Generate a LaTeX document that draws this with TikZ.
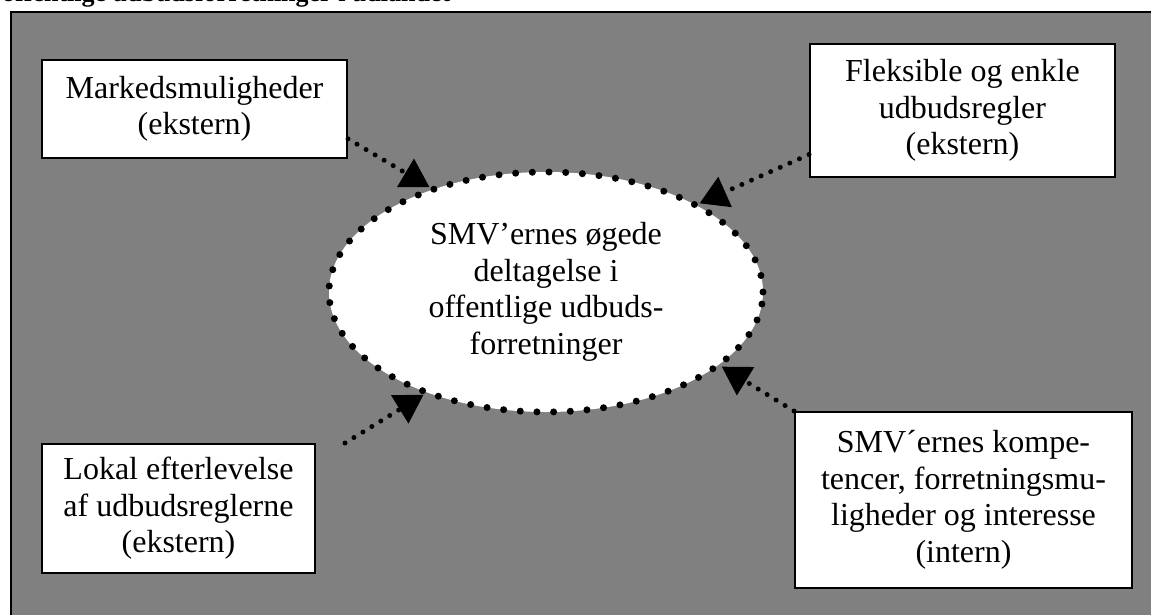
\documentclass[tikz,border=0pt]{standalone}
\usepackage{fontspec}
\setmainfont{Liberation Serif}
\usetikzlibrary{shapes.geometric,arrows.meta}
\tikzset{
  factor/.style={draw,fill=white,line width=2pt,align=center,inner sep=0pt,
    font=\fontsize{32}{36.5}\selectfont},
  goal/.style={ellipse,draw,fill=white,line width=7pt,line cap=round,
    dash pattern=on 0pt off 16.7pt,align=center,inner sep=0pt,
    font=\fontsize{32}{36.5}\selectfont},
  dotline/.style={line width=5pt,line cap=round,dash pattern=on 0pt off 10.5pt,
    -{Triangle[length=28pt,width=32pt]}},
}

\begin{document}
\begin{tikzpicture}[x=1pt,y=-1pt]
  \useasboundingbox (0,0) rectangle (1151,614);
  \node[anchor=base west,inner sep=0pt,font=\fontsize{26}{30}\selectfont\bfseries] (title) at (2,1) {offentlige udbudsforretninger i udlandet};
  \draw[fill=gray,line width=2pt] (11,12) rectangle (1180,650);
  \node[factor,minimum width=305pt,minimum height=98pt] (mark) at (194.5,109) {Markedsmuligheder\\(ekstern)};
  \node[factor,minimum width=305pt,minimum height=133pt] (flex) at (962.5,110.5) {Fleksible og enkle\\udbudsregler\\(ekstern)};
  \node[factor,minimum width=273pt,minimum height=129pt] (lokal) at (178.5,508.5) {Lokal efterlevelse\\af udbudsreglerne\\(ekstern)};
  \node[factor,minimum width=337pt,minimum height=176pt] (komp) at (963.5,500) {SMV´ernes kompe-\\tencer, forretningsmu-\\ligheder og interesse\\(intern)};
  \node[goal,minimum width=434pt,minimum height=240pt] (smv) at (546,292) {SMV’ernes øgede\\deltagelse i\\offentlige udbuds-\\forretninger};
  \coordinate (lokalend) at (345,443);
  \draw[dotline] (mark.-11.5) -- (smv.138.6);
  \draw[dotline] (flex.196.6) -- (smv.30);
  \draw[dotline] (lokalend) -- (smv.220);
  \draw[dotline] (komp.north west) -- (smv.337);
\end{tikzpicture}
\end{document}
